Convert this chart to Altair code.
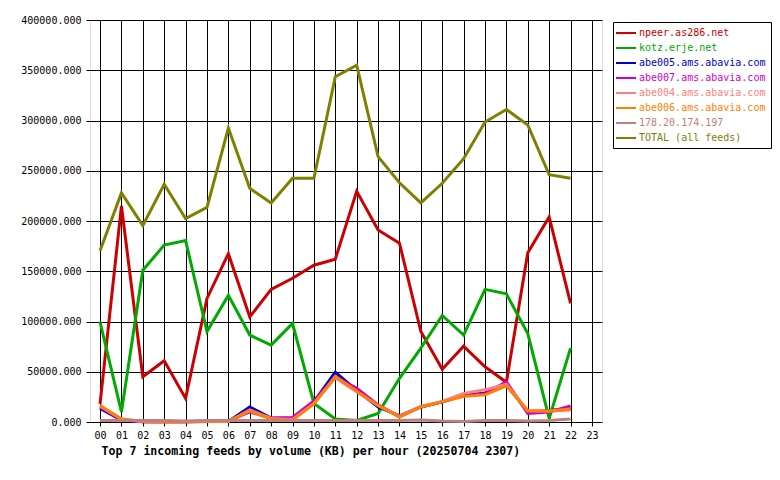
import altair as alt
import pandas as pd

hours = list(range(23))
tick_hours = list(range(24))
y_ticks = [0, 50000, 100000, 150000, 200000, 250000, 300000, 350000, 400000]

series_names = [
    "npeer.as286.net",
    "kotz.erje.net",
    "abe005.ams.abavia.com",
    "abe007.ams.abavia.com",
    "abe004.ams.abavia.com",
    "abe006.ams.abavia.com",
    "178.20.174.197",
    "TOTAL (all feeds)",
]
series_colors = ["#cc0000", "#00aa00", "#0000cc", "#cc00cc", "#ff8080", "#ff8000", "#c08080", "#808000"]

npeer = [18000, 215000, 45000, 61000, 23500, 123000, 167500, 104500, 132000, 143000, 156000, 162000,
         229500, 191000, 178000, 90000, 52500, 75500, 55000, 39500, 168500, 204000, 118000]
kotz = [99500, 10000, 151000, 176000, 180500, 90000, 126000, 86500, 76500, 98000, 18500, 3000,
        1500, 8500, 43500, 73500, 106000, 86500, 132000, 127500, 88000, 3500, 73500]
abe005 = [13500, 2000, 300, 300, 300, 500, 500, 15000, 4000, 3500, 20000, 49500,
          31500, 15000, 6000, 15000, 20000, 27000, 28500, 38000, 10000, 11500, 13500]
abe007 = [15000, 2000, 300, 300, 300, 1000, 1000, 10000, 4000, 4500, 21000, 45000,
          33500, 17000, 5500, 15000, 20000, 26000, 28000, 40000, 8500, 10000, 16000]
abe004 = [16000, 3000, 500, 300, 300, 500, 500, 12000, 3500, 2500, 18500, 44000,
          30000, 16500, 5500, 15500, 20500, 28500, 32000, 37500, 11500, 11000, 12000]
abe006 = [16500, 3000, 500, 300, 300, 500, 800, 11000, 3000, 2000, 18000, 45500,
          30500, 16500, 5000, 15000, 20000, 25500, 27000, 36000, 11000, 11000, 13000]
ip178 = [1500, 1500, 1500, 1500, 1000, 1500, 1500, 1500, 1500, 1500, 1500, 1500,
         1500, 1500, 1500, 2000, 1000, 500, 1500, 1500, 1000, 1500, 3000]
total = [170500, 228000, 195500, 236500, 202500, 213500, 292500, 232500, 218000, 242500, 242500, 343500,
         355000, 264000, 238000, 218000, 237500, 262000, 298500, 311000, 295500, 246000, 242500]

all_values = [npeer, kotz, abe005, abe007, abe004, abe006, ip178, total]

rows = []
for name, vals in zip(series_names, all_values):
    for h, v in zip(hours, vals):
        rows.append({"hour": h, "feed": name, "kb": v})
df = pd.DataFrame(rows)

mono = "DejaVu Sans Mono"
TITLE = "Top 7 incoming feeds by volume (KB) per hour (20250704 2307)"

chart = alt.Chart(df).mark_line(strokeWidth=3).encode(
    x=alt.X(
        "hour:Q",
        scale=alt.Scale(domain=[-0.47, 23.47], nice=False, zero=False),
        axis=alt.Axis(
            values=tick_hours, format="02d", grid=True, gridColor="black", gridWidth=1,
            gridOpacity=1, domain=False, tickColor="black", tickSize=4, labelPadding=4,
            labelFont=mono, labelFontSize=10, labelColor="black", labelFlush=False,
            title=TITLE, titleFont=mono, titleFontSize=11.6, titleFontWeight="bold",
            titleAnchor="start", titleAlign="left", titleX=11, titleY=32,
            titleBaseline="alphabetic", titleColor="black",
        ),
    ),
    y=alt.Y(
        "kb:Q",
        scale=alt.Scale(domain=[0, 400000], nice=False),
        axis=alt.Axis(
            values=y_ticks, format=".3f", grid=True, gridColor="black", gridWidth=1,
            gridOpacity=1, domain=False, tickColor="black", tickSize=4, labelPadding=5,
            labelFont=mono, labelFontSize=10, labelColor="black", title=None,
        ),
    ),
    color=alt.Color(
        "feed:N",
        sort=series_names,
        scale=alt.Scale(domain=series_names, range=series_colors),
        legend=alt.Legend(
            title=None, orient="none", legendX=523, legendY=2,
            symbolType="M-2,0H2", symbolSize=100, symbolStrokeWidth=2,
            symbolOffset=2, labelOffset=7, labelLimit=300,
            labelFont=mono, labelFontSize=10, strokeColor="black", fillColor="white",
            padding=5, rowPadding=4,
            labelColor={"expr": "scale('color', datum.value)"},
        ),
    ),
).properties(
    width=512,
    height=402,
    autosize=alt.AutoSizeParams(type="none"),
    padding={"left": 82, "top": 12, "right": 170, "bottom": 50},
).configure_view(
    fill="#e0e0e0", stroke="black", strokeWidth=1
).configure(background="white")

chart.save("out.html", embed_options={"renderer": "svg", "actions": False})
